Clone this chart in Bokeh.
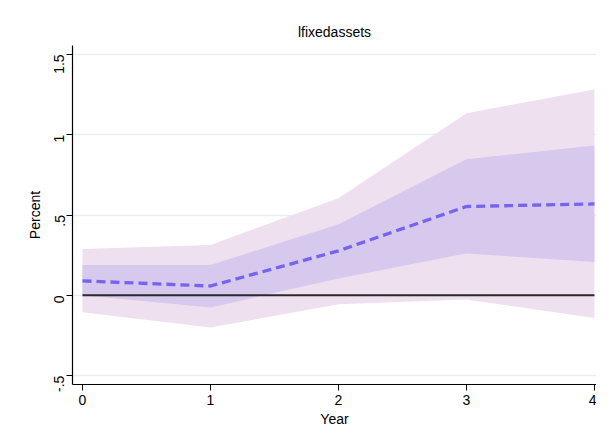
import math
from bokeh.plotting import figure
from bokeh.models import Range1d, FixedTicker
from bokeh.embed import file_html
from bokeh.resources import INLINE

# ---- data ----
years = [0, 1, 2, 3, 4]
irf = [0.090, 0.058, 0.277, 0.553, 0.569]
ci_inner_lo = [0.000, -0.075, 0.104, 0.261, 0.207]
ci_inner_hi = [0.189, 0.189, 0.442, 0.847, 0.933]
ci_outer_lo = [-0.105, -0.200, -0.055, -0.026, -0.141]
ci_outer_hi = [0.289, 0.313, 0.605, 1.134, 1.281]
zero_line = [0, 0, 0, 0, 0]
y_ticks = [-0.5, 0, 0.5, 1, 1.5]
y_tick_labels = ["-.5", "0", ".5", "1", "1.5"]
x_ticks = [0, 1, 2, 3, 4]
x_tick_labels = ["0", "1", "2", "3", "4"]

FONT = "Liberation Sans"

p = figure(width=596, height=429, output_backend="svg", toolbar_location=None,
           x_range=Range1d(-0.078, 4.016), y_range=Range1d(-0.555, 1.555),
           min_border_left=72, min_border_right=0, min_border_top=45,
           min_border_bottom=43, title="lfixedassets")

p.outline_line_color = None
p.background_fill_color = "white"
p.border_fill_color = "white"

p.title.align = "center"
p.title.text_font = FONT
p.title.text_font_size = "14px"
p.title.text_font_style = "normal"
p.title.text_color = "black"
p.title.standoff = 12

p.varea(x=years, y1=ci_outer_lo, y2=ci_outer_hi, fill_color="#EEE0EF", fill_alpha=1.0)
p.varea(x=years, y1=ci_inner_lo, y2=ci_inner_hi, fill_color="#D7C8EE", fill_alpha=1.0)
p.line(x=years, y=zero_line, line_color="#2a2a2a", line_width=2)
p.line(x=years, y=irf, line_color="#7464EE", line_width=3.3, line_dash="9 5")

p.xgrid.visible = False
p.ygrid.ticker = FixedTicker(ticks=y_ticks)
p.ygrid.grid_line_color = "#E6EFF1"
p.ygrid.grid_line_width = 1.5

p.xaxis.ticker = FixedTicker(ticks=x_ticks)
p.xaxis.major_label_overrides = dict(zip(x_ticks, x_tick_labels))
p.yaxis.ticker = FixedTicker(ticks=y_ticks)
p.yaxis.major_label_overrides = dict(zip(y_ticks, y_tick_labels))
p.yaxis.major_label_orientation = math.pi / 2

for ax in (p.xaxis, p.yaxis):
    ax.axis_line_color = "black"
    ax.axis_line_width = 1.2
    ax.major_tick_line_color = "black"
    ax.major_tick_in = 0
    ax.major_tick_out = 6
    ax.minor_tick_line_color = None
    ax.major_label_text_font = FONT
    ax.major_label_text_font_size = "14px"
    ax.major_label_text_color = "black"
    ax.axis_label_text_font = FONT
    ax.axis_label_text_font_size = "14px"
    ax.axis_label_text_font_style = "normal"
    ax.axis_label_text_color = "black"

p.xaxis.axis_label = "Year"
p.yaxis.axis_label = "Percent"
p.xaxis.major_label_standoff = 4
p.xaxis.axis_label_standoff = 3
p.yaxis.major_label_standoff = 7
p.yaxis.axis_label_standoff = 4

open("out.html", "w").write(file_html(p, INLINE))
